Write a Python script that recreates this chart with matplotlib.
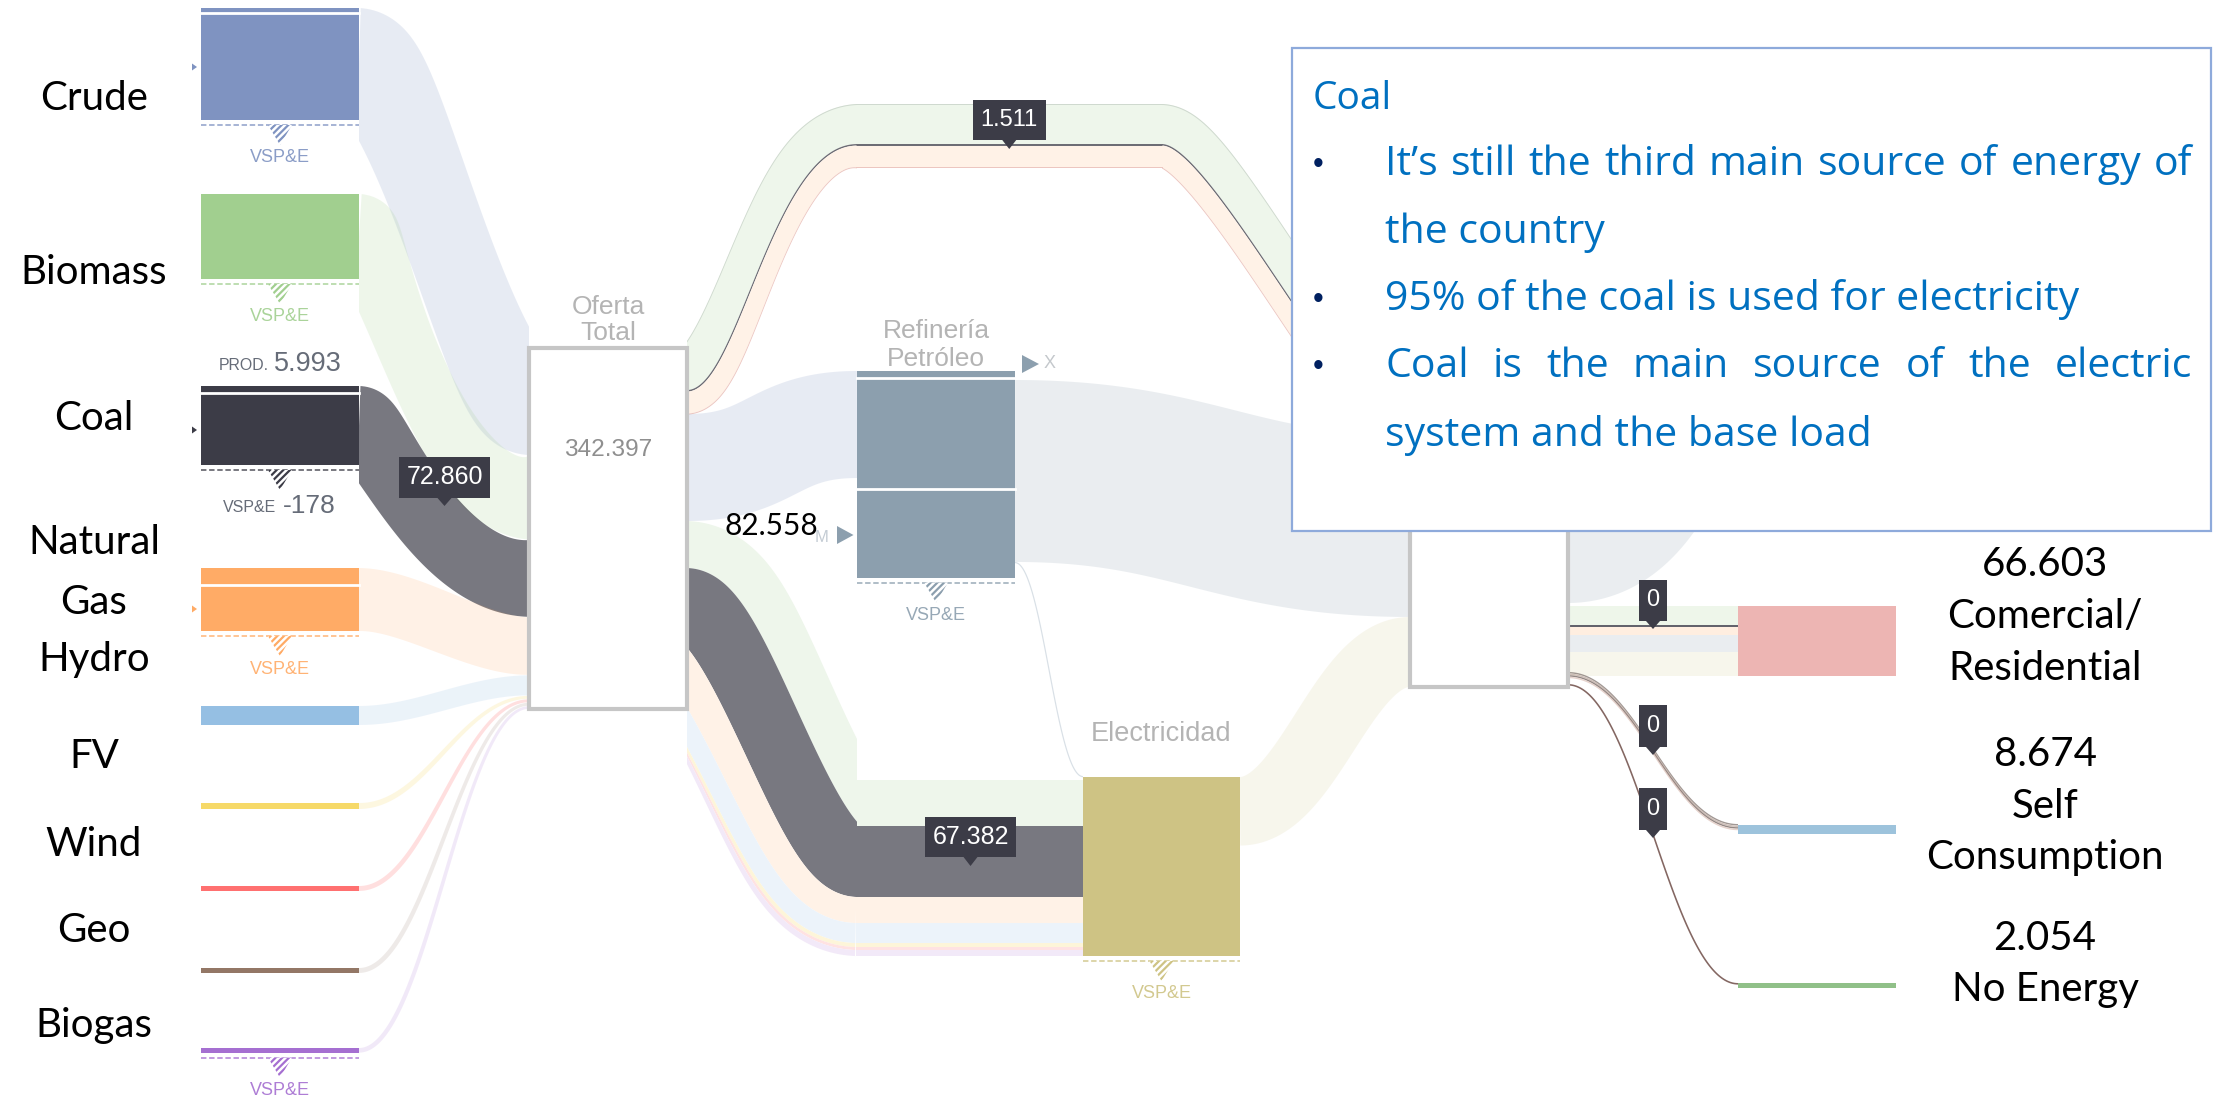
import matplotlib
matplotlib.use("Agg")
import matplotlib.pyplot as plt
import numpy as np
from matplotlib.colors import to_rgb
from matplotlib.patches import Polygon, Rectangle

# units per pixel of band thickness, taken from 342.397 over the Oferta node height
UNIT = 0.9485

# ---- data ----
source_names = ["Crude", "Biomass", "Coal", "Natural\nGas", "Hydro", "FV", "Wind", "Geo", "Biogas"]
source_values = [106.2, 80.6, 74.9, 59.8, 18.0, 5.7, 4.7, 4.7, 4.4]
supply_values = [101.5, 79.7, 72.86, 54.5, 19.0, 2.8, 2.8, 2.8, 2.5]
total_supply = 342.397
refinery_value = 196.3
electricity_value = 169.8
residential_value = 66.603
self_value = 8.674
no_energy_value = 4.7

arc_values = [38.0, 1.511, 20.6]
arc_start_values = [40.8, 1.511, 20.9]
refinery_in_value = 101.5
refinery_out_value = 172.6
elec_in_values = [43.6, 67.382, 24.7, 19.0, 3.8, 2.8, 5.7]
elec_start_values = [44.6, 71.1, 37.9, 20.9, 1.9, 0.9, 1.9]
elec_out_value = 65.0
res_flow_values = [18.0, 1.8, 7.5, 16.0, 23.0]

tag_values = ["72.860", "1.511", "67.382", "0", "0", "0"]
right_labels = ["66.603\nComercial/\nResidential", "8.674\nSelf\nConsumption", "2.054\nNo Energy"]

box_title = "Coal"
box_lines = [
    ("It\u2019s still the third main source of energy of", True, True),
    ("the country", False, False),
    ("95% of the coal is used for electricity", True, False),
    ("Coal is the main source of the electric", True, True),
    ("system and the base load", False, False),
]

# ---- layout and styles ----
source_colors = ["#7f93c1", "#a1cf8f", "#3c3c47", "#ffab66", "#95bfe3", "#f6d968", "#ff7070", "#937766", "#a56fd1"]
source_alpha = [0.18, 0.18, 0.69, 0.16, 0.18, 0.2, 0.22, 0.15, 0.15]
source_tops = [8, 194, 386, 568, 706, 803, 886, 968, 1048]
source_split = [13, None, 393, 585, None, None, None, None, None]
source_vsp = [True, True, True, True, False, False, False, False, True]
source_curve = [(0.27, 0.27, 0.23), (0.1, 0.55, 0.3), (0.1, 0.55, 0.1), (0.3, 0.3, 0.0), (0.35, 0.35, 0),
                (0.4, 0.4, 0), (0.4, 0.4, 0), (0.4, 0.4, 0), (0.4, 0.4, 0)]
label_y = [99, 272, 418, 543, 660, 756, 845, 931, 1025]

COL_S = (201, 359)
COL_T = (529, 687)
COL_R = (857, 1015)
COL_E = (1083, 1240)
COL_F = (1410, 1568)
COL_O = (1738, 1896)
ARC_END = 1162
TAG = "#3c3c47"
BORDER = "#c6c6c6"
BLUE = "#0070c0"

plt.rcParams["font.family"] = ["Liberation Sans", "DejaVu Sans"]
plt.rcParams["hatch.linewidth"] = 1.6
fig = plt.figure(figsize=(22.24, 10.96), dpi=100)
ax = fig.add_axes([0, 0, 1, 1])
ax.set_xlim(0, 2224)
ax.set_ylim(1096, 0)
ax.axis("off")


def px(value):
    return value / UNIT


def tint(color, alpha):
    # colour over white, so neighbouring pieces of one link show no seam
    return tuple(alpha * c + 1 - alpha for c in to_rgb(color))


def cum_edges(start, values):
    return start + np.r_[0, np.cumsum([px(v) for v in values])]


def stack(x0, x1, edges0, edges1, centre, colors, alphas, f0=0.5, f1=0.5, pinch=0.0):
    # bands share one bezier centre line, their edges are offset along its normal
    t = np.linspace(0, 1, 240)
    edges0, edges1 = np.asarray(edges0, float), np.asarray(edges1, float)
    c0, c1 = centre
    dx = x1 - x0
    xs = (1 - t) ** 3 * x0 + 3 * (1 - t) ** 2 * t * (x0 + f0 * dx) + 3 * (1 - t) * t ** 2 * (x1 - f1 * dx) + t ** 3 * x1
    ys = (1 - t) ** 3 * c0 + 3 * (1 - t) ** 2 * t * c0 + 3 * (1 - t) * t ** 2 * c1 + t ** 3 * c1
    tx, ty = np.gradient(xs), np.gradient(ys)
    n = np.hypot(tx, ty)
    nx, ny = -ty / n, tx / n
    squeeze = 1 - pinch * np.sin(np.pi * t)
    lines = []
    for e0, e1 in zip(edges0, edges1):
        off = ((e0 - c0) * (1 - t) + (e1 - c1) * t) * squeeze
        lines.append(np.c_[xs + nx * off, ys + ny * off])
    for i in range(len(edges0) - 1):
        pts = np.r_[lines[i], lines[i + 1][::-1]]
        patch = Polygon(pts, closed=True, facecolor=colors[i], edgecolor="none", alpha=alphas[i], zorder=1)
        ax.add_patch(patch)
        patch.set_clip_path(Rectangle((x0, 0), dx, 1096, transform=ax.transData))


def band(x0, y0, w0, x1, y1, w1, color, alpha=1.0, f0=0.5, f1=0.5, pinch=0.0):
    stack(x0, x1, [y0, y0 + w0], [y1, y1 + w1], (y0 + w0 / 2, y1 + w1 / 2), [color], [alpha], f0, f1, pinch)


def flat(x0, x1, y, w, color, alpha=1.0):
    ax.add_patch(Rectangle((x0, y), x1 - x0, w, facecolor=color, edgecolor="none", alpha=alpha, zorder=1))


def vsp(col, y_dash, color, text="VSP&E", text_y=None, size=13):
    cx = sum(col) / 2
    ax.plot(col, [y_dash, y_dash], color=color, lw=1.3, ls=(0, (3, 1.5)), alpha=0.75, zorder=4)
    ax.add_patch(Polygon([(cx - 12, y_dash), (cx + 12, y_dash), (cx, y_dash + 20)], closed=True,
                         facecolor="white", edgecolor=color, hatch="/////", lw=0, zorder=4))
    if text:
        ax.text(cx, text_y if text_y else y_dash + 33, text, color=color, fontsize=size, ha="center", va="center", alpha=0.9, zorder=5)


def tag(x0, x1, y0, y1, tip, text, size=18):
    ax.add_patch(Rectangle((x0, y0), x1 - x0, y1 - y0, facecolor=TAG, edgecolor="none", zorder=8))
    cx = (x0 + x1) / 2
    ax.add_patch(Polygon([(cx - 7, y1), (cx + 7, y1), (cx, tip)], closed=True, facecolor=TAG, edgecolor="none", zorder=8))
    ax.text(cx, (y0 + y1) / 2, text, color="white", fontsize=size, ha="center", va="center", zorder=9)


def small_tri(x0, x1, y, half, color):
    ax.add_patch(Polygon([(x0, y - half), (x1, y), (x0, y + half)], closed=True, facecolor=color, edgecolor="none", zorder=4))


def node_box(col, top, bottom):
    ax.add_patch(Rectangle((col[0], top), col[1] - col[0], bottom - top, facecolor="white", edgecolor=BORDER, lw=3.0, zorder=3))


def black(x, y, s, spacing=1.5):
    ax.text(x, y, s, color="black", fontsize=29, family="Lato", ha="center", va="center", zorder=9, linespacing=spacing)


# links from the sources into Oferta Total
y_in = 348.0
for i in range(len(source_names)):
    w_s, w_t = px(source_values[i]), px(supply_values[i])
    f0, f1, pinch = source_curve[i]
    band(COL_S[1], source_tops[i], w_s, COL_T[0], y_in, w_t, source_colors[i], source_alpha[i], f0, f1, pinch)
    y_in += w_t + 0.5

# upper arc through the top of the chart, with thin darker rims
arc_colors = [tint("#a1cf8f", 0.18), tint("#3c3c47", 0.75), tint("#ffab66", 0.16)]
arc_0 = cum_edges(347, arc_start_values)
arc_1 = cum_edges(104, arc_values)
arc_2 = arc_1 + 296
up = (arc_0[1], arc_1[1])
down = (arc_1[1], arc_2[1])
for i in range(3):
    flat(COL_R[0] - 1, ARC_END + 1, arc_1[i], arc_1[i + 1] - arc_1[i], arc_colors[i])
stack(COL_T[1], COL_R[0], arc_0, arc_1, up, arc_colors, [1, 1, 1], 0.3, 0.5, 0.2)
stack(ARC_END, COL_F[0], arc_1, arc_2, down, arc_colors, [1, 1, 1], 0.2, 0.2, 0.15)
for k, edge in [(0, "#cfd9cf"), (3, "#ecc6c0")]:
    flat(COL_R[0] - 1, ARC_END + 1, arc_1[k], 1, edge)
    stack(COL_T[1], COL_R[0], [arc_0[k], arc_0[k] + 1], [arc_1[k], arc_1[k] + 1], up, [edge], [1], 0.3, 0.5, 0.2)
    stack(ARC_END, COL_F[0], [arc_1[k], arc_1[k] + 1], [arc_2[k], arc_2[k] + 1], down, [edge], [1], 0.2, 0.2, 0.15)

# refinery links
band(COL_T[1], 414, px(refinery_in_value), COL_R[0], 371, px(refinery_in_value), "#7f93c1", 0.18, 0.5, 0.5)
band(COL_R[1], 380, px(refinery_out_value), COL_F[0], 435, px(refinery_out_value), "#8c9fae", 0.18, 0.45, 0.45)
band(COL_R[1], 562, 1.2, COL_E[0], 776, 1.2, "#c9d3dc", 0.7, 0.4, 0.4)

# links into the electricity node
elec_colors = [tint(c, a) for c, a in zip(["#a1cf8f", "#3c3c47", "#ffab66", "#95bfe3", "#f6d968", "#ff7070", "#a56fd1"],
                                          [0.18, 0.69, 0.16, 0.18, 0.25, 0.2, 0.15])]
elec_0 = cum_edges(521, elec_start_values)
elec_1 = cum_edges(780, elec_in_values)
for i in range(len(elec_colors)):
    flat(COL_R[0] - 1, COL_E[0], elec_1[i], elec_1[i + 1] - elec_1[i], elec_colors[i])
stack(COL_T[1], COL_R[0], elec_0, elec_1, (elec_0[1] + 37, elec_1[1] + 35), elec_colors, [1] * 7, 0.3, 0.3, 0.1)

# electricity to the final node, and the flow leaving to the upper right
band(COL_E[1], 777, px(elec_out_value), COL_F[0], 617, px(elec_out_value) * 1.02, "#cec384", 0.15, 0.4, 0.4)
band(COL_F[1], 437, 166, 1800, 100, 166, "#8c9fae", 0.18, 0.5, 0.5)

# flows to the residential node
res_colors = ["#a1cf8f", "#3c3c47", "#ffab66", "#8c9fae", "#cec384"]
res_alpha = [0.18, 0.8, 0.2, 0.18, 0.15]
y_res = 606.0
for i in range(len(res_colors)):
    w = px(res_flow_values[i])
    flat(COL_F[1], COL_O[0], y_res, w, res_colors[i], res_alpha[i])
    y_res += w

# thin flows to the two small end nodes
for off, color, a in [(0, "#8a7f7a", 0.8), (1.6, "#c9b8b0", 0.9), (3.2, "#7a6a66", 0.8), (4.8, "#e0c8c0", 0.8)]:
    band(COL_F[1], 672 + off, 1.4, COL_O[0], 824 + off, 1.4, color, a, 0.4, 0.4)
band(COL_F[1], 684, 1.6, COL_O[0], 983, 1.6, "#7d5f5a", 0.95, 0.4, 0.4)

# source nodes
for i, name in enumerate(source_names):
    top = source_tops[i]
    h = px(source_values[i])
    ax.add_patch(Rectangle((COL_S[0], top), COL_S[1] - COL_S[0], h, facecolor=source_colors[i], edgecolor="none", zorder=3))
    if source_split[i]:
        ax.plot(COL_S, [source_split[i]] * 2, color="white", lw=2, zorder=4)
    if source_vsp[i]:
        vsp(COL_S, top + h + 5, source_colors[i], "" if name == "Coal" else "VSP&E")

for i, name in enumerate(source_names):
    if name == "Natural\nGas":
        black(94, label_y[i], "Natural")
        black(94, 602, "Gas")
    else:
        black(94, label_y[i], name)

for y_tri, color in [(67, source_colors[0]), (430, source_colors[2]), (609, source_colors[3])]:
    small_tri(192, 197, y_tri, 3.5, color)

# coal production and own use labels
ax.text(219, 365, "PROD.", color="#666c78", fontsize=11.4, ha="left", va="center")
ax.text(274, 364, "5.993", color="#666c78", fontsize=19.5, ha="left", va="center")
ax.text(223, 507, "VSP&E", color="#666c78", fontsize=11.5, ha="left", va="center")
ax.text(283, 506, "-178", color="#666c78", fontsize=19, ha="left", va="center")

# middle nodes
node_box(COL_T, 348, 709)
ax.text(608, 307, "Oferta", color="#b4b4b4", fontsize=19, ha="center", va="center", zorder=5)
ax.text(608, 333, "Total", color="#b4b4b4", fontsize=19, ha="center", va="center", zorder=5)
ax.text(608, 450, f"{total_supply:.3f}", color="#8f8f8f", fontsize=17.6, ha="center", va="center", zorder=5)

ref_h = px(refinery_value)
ax.add_patch(Rectangle((COL_R[0], 371), COL_R[1] - COL_R[0], ref_h, facecolor="#8c9fae", edgecolor="none", zorder=3))
for y_split in (378, 489):
    ax.plot(COL_R, [y_split, y_split], color="white", lw=2, zorder=4)
vsp(COL_R, 582.5, "#8c9fae")
ax.text(936, 331, "Refinería", color="#b4b4b4", fontsize=19, ha="center", va="center", zorder=5)
ax.text(936, 359, "Petróleo", color="#b4b4b4", fontsize=19, ha="center", va="center", zorder=5)
small_tri(1022, 1039, 364, 9, "#8c9fae")
ax.text(1050, 363, "X", color="#c4c8cc", fontsize=13, ha="center", va="center", zorder=5)
ax.text(771, 526, "82.558", color="black", fontsize=21.5, family="Lato", ha="center", va="center", zorder=9)
ax.text(822, 537, "M", color="#c4ccd4", fontsize=12, ha="center", va="center", zorder=5)
small_tri(837, 853.5, 535, 9, "#8c9fae")

elec_h = px(electricity_value)
ax.add_patch(Rectangle((COL_E[0], 777), COL_E[1] - COL_E[0], elec_h, facecolor="#cec384", edgecolor="none", zorder=3))
vsp(COL_E, 961, "#cec384")
ax.text(1161, 734, "Electricidad", color="#b4b4b4", fontsize=19.5, ha="center", va="center", zorder=5)

# final node and end nodes
node_box(COL_F, 380, 687)
ax.add_patch(Rectangle((COL_O[0], 606), COL_O[1] - COL_O[0], px(residential_value), facecolor="#edb5b3", edgecolor="none", zorder=3))
ax.add_patch(Rectangle((COL_O[0], 825), COL_O[1] - COL_O[0], px(self_value), facecolor="#9dc3dc", edgecolor="none", zorder=3))
ax.add_patch(Rectangle((COL_O[0], 983), COL_O[1] - COL_O[0], px(no_energy_value), facecolor="#90c088", edgecolor="none", zorder=3))

# value tags
tag(399, 490, 457, 498, 506, tag_values[0])
tag(972.5, 1046, 100, 140, 149, tag_values[1], 17)
tag(925, 1016, 817, 857, 866, tag_values[2])
tag(1639, 1667, 580, 621, 629, tag_values[3], 17)
tag(1639, 1667, 705, 747, 755, tag_values[4], 17)
tag(1639, 1667, 788, 830, 838, tag_values[5], 17)

# labels on the right
black(2045, 616, right_labels[0])
black(2045, 806, right_labels[1])
black(2045, 964, right_labels[2])

# text box on top of the chart
ax.add_patch(Rectangle((1292, 48), 919, 483, facecolor="white", edgecolor="#8eaadb", lw=1.6, zorder=10))
ax.text(1313, 99, box_title, color=BLUE, fontsize=28, family="Open Sans", ha="left", va="center", zorder=11)
line_y = [165, 233, 300, 367, 435]
TEXT_L, TEXT_R = 1385, 2192
renderer = fig.canvas.get_renderer()
for (line, bullet, justify), y in zip(box_lines, line_y):
    if bullet:
        ax.text(1318, y, "\u2022", color="#002060", fontsize=22, ha="center", va="center", zorder=11)
    if not justify:
        ax.text(TEXT_L, y, line, color=BLUE, fontsize=29.5, family="Open Sans", ha="left", va="center", zorder=11)
        continue
    # justified line, words spread across the box
    words = line.split(" ")
    items = [ax.text(0, y, w, color=BLUE, fontsize=29.5, family="Open Sans", ha="left", va="center", zorder=11) for w in words]
    widths = [it.get_window_extent(renderer).width for it in items]
    gap = (TEXT_R - TEXT_L - sum(widths)) / (len(words) - 1)
    x = TEXT_L
    for it, w in zip(items, widths):
        it.set_x(x)
        x += w + gap

fig.savefig("out.png", dpi=100, facecolor="white")
